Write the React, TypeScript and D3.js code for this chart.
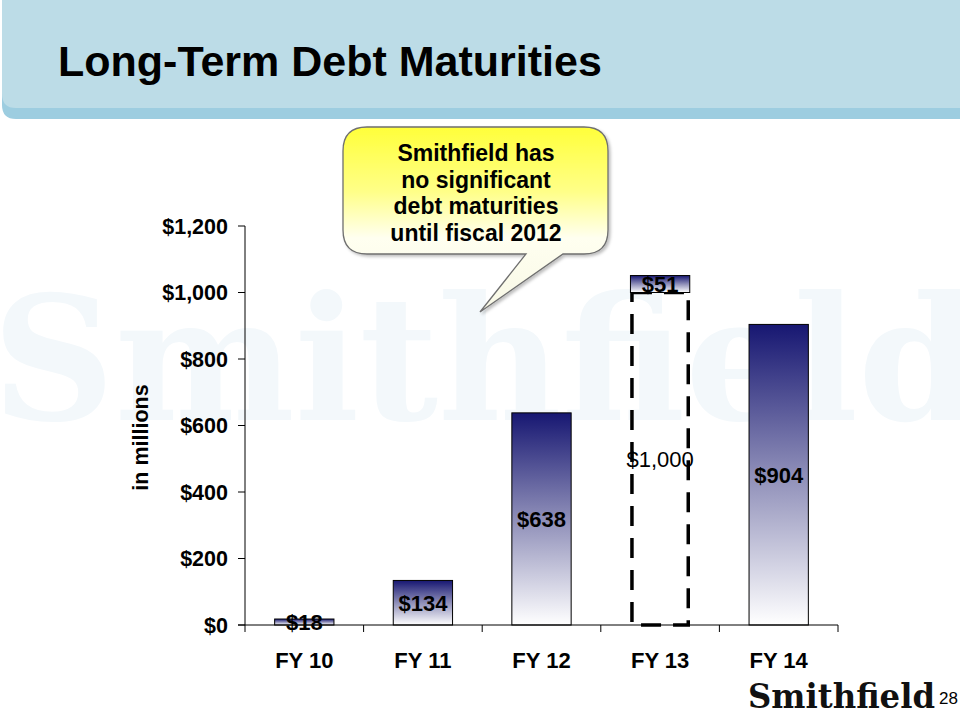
import React from "react";
import * as d3 from "d3";

const categories = ["FY 10", "FY 11", "FY 12", "FY 13", "FY 14"];
const solidValues = [18, 134, 638, 51, 904];
const dashedValues = [0, 0, 0, 1000, 0];
const yTicks = [0, 200, 400, 600, 800, 1000, 1200];
const title = "Long-Term Debt Maturities";
const calloutLines = ["Smithfield has", "no significant", "debt maturities", "until fiscal 2012"];
const yAxisTitle = "in millions";
const pageNumber = "28";
const brand = "Smithfield";

const W = 960;
const H = 720;
const FONT = "'Liberation Sans', Arial, sans-serif";
const SERIF = "'DejaVu Serif', 'Liberation Serif', serif";

export default function App() {
  const x = d3
    .scaleBand<string>()
    .domain(categories)
    .range([245, 838])
    .paddingInner(0.5)
    .paddingOuter(0.25);
  const y = d3.scaleLinear().domain([0, 1200]).range([625, 226]);
  const fmt = d3.format("$,");
  const bw = x.bandwidth();
  const step = x.step();

  const headerDark = `M2,0 H${W} V119 H16 Q2,119 2,105 Z`;
  const headerLight = `M2,0 H${W} V108 H16 Q2,108 2,94 Z`;

  // callout shape
  const bx0 = 343, bx1 = 608, by0 = 127, by1 = 254, r = 24;
  const tail = { l: 526, rr: 563, tx: 480, ty: 312 };
  const callout = [
    `M${bx0 + r},${by0}`,
    `H${bx1 - r}`,
    `Q${bx1},${by0} ${bx1},${by0 + r}`,
    `V${by1 - r}`,
    `Q${bx1},${by1} ${bx1 - r},${by1}`,
    `H${tail.rr}`,
    `L${tail.tx},${tail.ty}`,
    `L${tail.l},${by1}`,
    `H${bx0 + r}`,
    `Q${bx0},${by1} ${bx0},${by1 - r}`,
    `V${by0 + r}`,
    `Q${bx0},${by0} ${bx0 + r},${by0}`,
    "Z",
  ].join(" ");

  return (
    <svg
      width={W}
      height={H}
      style={{ position: "absolute", left: 0, top: 0, background: "#fff" }}
    >
      <defs>
        <linearGradient id="barGrad" x1="0" y1="0" x2="0" y2="1">
          <stop offset="0" stopColor="#171772" />
          <stop offset="0.5" stopColor="#8e8eb8" />
          <stop offset="1" stopColor="#ffffff" />
        </linearGradient>
        <linearGradient id="calloutGrad" x1="0" y1="0" x2="0" y2="1">
          <stop offset="0" stopColor="#ffff3a" />
          <stop offset="0.35" stopColor="#ffff88" />
          <stop offset="0.6" stopColor="#fffff0" />
          <stop offset="1" stopColor="#f8f8e6" />
        </linearGradient>
        <filter id="shadow" x="-10%" y="-10%" width="130%" height="130%">
          <feDropShadow dx="2" dy="2" stdDeviation="1.5" floodColor="#000" floodOpacity="0.25" />
        </filter>
      </defs>

      <rect x={0} y={0} width={W} height={H} fill="#ffffff" />

      {/* watermark */}
      <text
        x={-8}
        y={420}
        fontFamily={SERIF}
        fontWeight="bold"
        fontSize={172}
        textLength={985}
        lengthAdjust="spacingAndGlyphs"
        fill="#f3f8fb"
      >
        {brand}
      </text>

      {/* header */}
      <path d={headerDark} fill="#9dcde0" />
      <path d={headerLight} fill="#bcdce7" />
      <text x={58} y={76} fontFamily={FONT} fontWeight="bold" fontSize={43} fill="#000">
        {title}
      </text>

      {/* y axis */}
      <line x1={245} x2={245} y1={y(1200)} y2={y(0)} stroke="#000" strokeWidth={1} />
      {yTicks.map((t) => (
        <g key={t}>
          <line x1={238} x2={245} y1={y(t)} y2={y(t)} stroke="#000" strokeWidth={1} />
          <text
            x={228}
            y={y(t)}
            dy="0.36em"
            textAnchor="end"
            fontFamily={FONT}
            fontWeight="bold"
            fontSize={21.5}
            fill="#000"
          >
            {fmt(t)}
          </text>
        </g>
      ))}
      <text
        transform={`translate(148,${(y(0) + y(1200)) / 2 + 12}) rotate(-90)`}
        textAnchor="middle"
        fontFamily={FONT}
        fontWeight="bold"
        fontSize={21.5}
        fill="#000"
      >
        {yAxisTitle}
      </text>

      {/* bars */}
      {categories.map((c, i) => {
        const x0 = x(c)!;
        const base = dashedValues[i];
        const top = base + solidValues[i];
        return (
          <g key={c}>
            {dashedValues[i] > 0 && (
              <rect
                x={x0 + 1.5}
                y={y(base)}
                width={bw - 3}
                height={y(0) - y(base)}
                fill="none"
                stroke="#000"
                strokeWidth={3.5}
                strokeDasharray="20 12"
              />
            )}
            <rect
              x={x0}
              y={y(top)}
              width={bw}
              height={y(base) - y(top)}
              fill="url(#barGrad)"
              stroke="#000"
              strokeWidth={1}
            />
          </g>
        );
      })}

      {/* x axis */}
      <line x1={238} x2={838} y1={y(0)} y2={y(0)} stroke="#000" strokeWidth={1} />
      {d3.range(categories.length + 1).map((k) => (
        <line
          key={k}
          x1={245 + k * step}
          x2={245 + k * step}
          y1={y(0)}
          y2={y(0) + 7}
          stroke="#000"
          strokeWidth={1}
        />
      ))}
      {categories.map((c) => (
        <text
          key={c}
          x={x(c)! + bw / 2}
          y={668}
          textAnchor="middle"
          fontFamily={FONT}
          fontWeight="bold"
          fontSize={22}
          fill="#000"
        >
          {c}
        </text>
      ))}

      {/* value labels */}
      {categories.map((c, i) => {
        const base = dashedValues[i];
        const top = base + solidValues[i];
        return (
          <g key={c}>
            <text
              x={x(c)! + bw / 2}
              y={(y(base) + y(top)) / 2}
              dy="0.36em"
              textAnchor="middle"
              fontFamily={FONT}
              fontWeight="bold"
              fontSize={22}
              fill="#000"
            >
              {fmt(solidValues[i])}
            </text>
            {dashedValues[i] > 0 && (
              <text
                x={x(c)! + bw / 2}
                y={(y(0) + y(base)) / 2}
                dy="0.36em"
                textAnchor="middle"
                fontFamily={FONT}
                fontSize={22}
                fill="#000"
              >
                {fmt(dashedValues[i])}
              </text>
            )}
          </g>
        );
      })}

      {/* callout */}
      <path d={callout} fill="url(#calloutGrad)" stroke="#6f6f6f" strokeWidth={1.3} filter="url(#shadow)" />
      {calloutLines.map((l, i) => (
        <text
          key={l}
          x={476}
          y={161 + i * 26.7}
          textAnchor="middle"
          fontFamily={FONT}
          fontWeight="bold"
          fontSize={23}
          fill="#000"
        >
          {l}
        </text>
      ))}

      {/* logo + page number */}
      <text
        x={748}
        y={708}
        fontFamily={SERIF}
        fontWeight="bold"
        fontSize={33}
        textLength={187}
        lengthAdjust="spacingAndGlyphs"
        fill="#111"
      >
        {brand}
      </text>
      <text x={939} y={704} fontFamily={FONT} fontSize={17} fill="#000">
        {pageNumber}
      </text>
    </svg>
  );
}
